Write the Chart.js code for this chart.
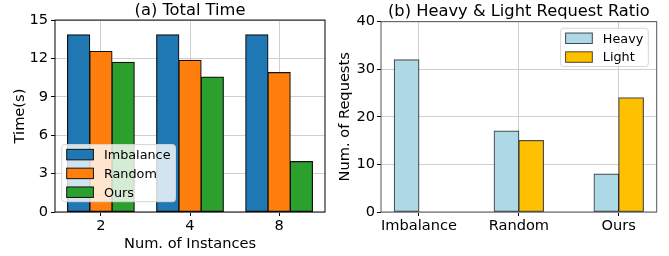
<!DOCTYPE html>
<html>
<head>
<meta charset="utf-8">
<script src="https://cdn.jsdelivr.net/npm/chart.js@4.4.1/dist/chart.umd.min.js"></script>
<style>
  body { margin: 0; background: #fff; }
  #wrap { position: relative; width: 669px; height: 256px; }
  canvas { position: absolute; top: 0; }
</style>
</head>
<body>
<div id="wrap">
  <canvas id="timeChart" width="335" height="256" style="left:0"></canvas>
  <canvas id="ratioChart" width="334" height="256" style="left:335px"></canvas>
</div>
<script>
// (a) total time
const instances = ['2', '4', '8'];
const imbalanceTime = [13.85, 13.85, 13.85];
const randomTime = [12.55, 11.85, 10.9];
const oursTime = [11.7, 10.55, 3.95];
const timeTicks = [0, 3, 6, 9, 12, 15];

// (b) heavy / light requests
const methods = ['Imbalance', 'Random', 'Ours'];
const heavyReqs = [32, 17, 8];
const lightReqs = [0, 15, 24];
const reqTicks = [0, 10, 20, 30, 40];

Chart.defaults.font.family = 'DejaVu Sans';
Chart.defaults.color = '#000';

const toPoints = vals => vals.map((v, i) => ({ x: i, y: v }));

// box round the plot, like matplotlib spines
const frame = {
  id: 'frame',
  afterDatasetsDraw(chart, args, opts) {
    const { left, top, right, bottom } = chart.chartArea;
    const ctx = chart.ctx;
    ctx.save();
    ctx.strokeStyle = opts.color || '#000';
    ctx.lineWidth = 1;
    ctx.strokeRect(left, top, right - left, bottom - top);
    ctx.restore();
  }
};

// legend box drawn inside the plot area
const boxLegend = {
  id: 'boxLegend',
  afterDraw(chart, args, opts) {
    const ctx = chart.ctx;
    const area = chart.chartArea;
    ctx.save();
    ctx.font = '12.8px DejaVu Sans';
    const items = chart.data.datasets;
    const textW = Math.max(...items.map(d => ctx.measureText(d.label).width));
    const pad = 5, patchW = 26.7, patchH = 10.5, gap = 10.5, row = 18.8;
    const w = pad + patchW + gap + textW + pad;
    const h = 10 + row * (items.length - 1) + 9.5;
    let x, y;
    if (opts.corner === 'lowerLeft') {
      x = area.left + opts.inset[0];
      y = area.bottom - opts.inset[1] - h;
    } else {
      x = area.right - opts.inset[0] - w;
      y = area.top + opts.inset[1];
    }
    ctx.fillStyle = 'rgba(255,255,255,0.8)';
    ctx.strokeStyle = '#d6d6d6';
    ctx.lineWidth = 1;
    ctx.beginPath();
    ctx.roundRect(x, y, w, h, 3);
    ctx.fill();
    ctx.stroke();
    items.forEach((d, i) => {
      const cy = y + 10 + i * row;
      ctx.fillStyle = d.backgroundColor;
      ctx.fillRect(x + pad, cy - patchH / 2, patchW, patchH);
      ctx.strokeStyle = d.borderColor;
      ctx.strokeRect(x + pad, cy - patchH / 2, patchW, patchH);
      ctx.fillStyle = '#000';
      ctx.textBaseline = 'middle';
      ctx.fillText(d.label, x + pad + patchW + gap, cy + 1);
    });
    ctx.restore();
  }
};

function barSet(label, vals, fill, edge) {
  return {
    label, data: toPoints(vals),
    backgroundColor: fill, borderColor: edge,
    borderWidth: 1.2, borderSkipped: false, inflateAmount: 0.5
  };
}

new Chart(document.getElementById('timeChart'), {
  type: 'bar',
  data: {
    datasets: [
      barSet('Imbalance', imbalanceTime, '#1f77b4', '#111'),
      barSet('Random', randomTime, '#ff7f0e', '#111'),
      barSet('Ours', oursTime, '#2ca02c', '#111')
    ]
  },
  options: {
    responsive: false,
    animation: false,
    layout: { padding: { left: 0, right: 10, top: 0, bottom: 0 } },
    datasets: { bar: { categoryPercentage: 0.75, barPercentage: 1 } },
    plugins: {
      legend: { display: false },
      tooltip: { enabled: false },
      title: {
        display: true, text: '(a) Total Time', fullSize: false,
        font: { size: 16.3, weight: 'normal' },
        padding: { top: 0.5, bottom: 0 }, color: '#000'
      },
      frame: { color: '#000' },
      boxLegend: { corner: 'lowerLeft', inset: [6.7, 10.3] }
    },
    scales: {
      x: {
        type: 'linear', min: -0.515, max: 2.515, offset: false,
        afterFit: s => { s.height = 44; },
        ticks: {
          stepSize: 1, includeBounds: false, padding: 1.5,
          font: { size: 14.6 },
          callback: v => instances[v]
        },
        grid: { color: '#d0d0d0', tickColor: '#000', tickLength: 4, offset: false },
        border: { display: false },
        title: {
          display: true, text: 'Num. of Instances',
          font: { size: 14.6 }, padding: { top: 0, bottom: 3 }
        }
      },
      y: {
        min: 0, max: 15,
        afterFit: s => { s.width = 55; },
        afterBuildTicks: s => { s.ticks = timeTicks.map(v => ({ value: v })); },
        ticks: { padding: 3, font: { size: 14.6 } },
        grid: { color: '#d0d0d0', tickColor: '#000', tickLength: 4 },
        border: { display: false },
        title: {
          display: true, text: 'Time(s)',
          font: { size: 14.6 }, padding: { top: 11, bottom: 0 }
        }
      }
    }
  },
  plugins: [frame, boxLegend]
});

new Chart(document.getElementById('ratioChart'), {
  type: 'bar',
  data: {
    datasets: [
      barSet('Heavy', heavyReqs, '#add8e6', 'rgba(0,0,0,0.7)'),
      barSet('Light', lightReqs, '#ffc000', 'rgba(0,0,0,0.7)')
    ]
  },
  options: {
    responsive: false,
    animation: false,
    layout: { padding: { left: 0, right: 12.3, top: 0, bottom: 0 } },
    datasets: { bar: { categoryPercentage: 0.495, barPercentage: 1 } },
    plugins: {
      legend: { display: false },
      tooltip: { enabled: false },
      title: {
        display: true, text: '(b) Heavy & Light Request Ratio', fullSize: false,
        font: { size: 16.3, weight: 'normal' },
        padding: { top: 1.6, bottom: 0.5 }, color: '#000'
      },
      frame: { color: '#555' },
      boxLegend: { corner: 'upperRight', inset: [8.4, 6.6] }
    },
    scales: {
      x: {
        type: 'linear', min: -0.38, max: 2.38, offset: false,
        afterFit: s => { s.height = 44; },
        ticks: {
          stepSize: 1, includeBounds: false, padding: 1.5,
          font: { size: 14.6 },
          callback: v => methods[v]
        },
        grid: { color: '#d0d0d0', tickColor: '#000', tickLength: 4, offset: false },
        border: { display: false }
      },
      y: {
        min: 0, max: 40,
        afterFit: s => { s.width = 46; },
        afterBuildTicks: s => { s.ticks = reqTicks.map(v => ({ value: v })); },
        ticks: { padding: 2, font: { size: 14.6 } },
        grid: { color: '#d0d0d0', tickColor: '#000', tickLength: 4 },
        border: { display: false },
        title: {
          display: true, text: 'Num. of Requests',
          font: { size: 14.6 }, padding: { top: 1.2, bottom: 0 }
        }
      }
    }
  },
  plugins: [frame, boxLegend]
});
</script>
</body>
</html>
